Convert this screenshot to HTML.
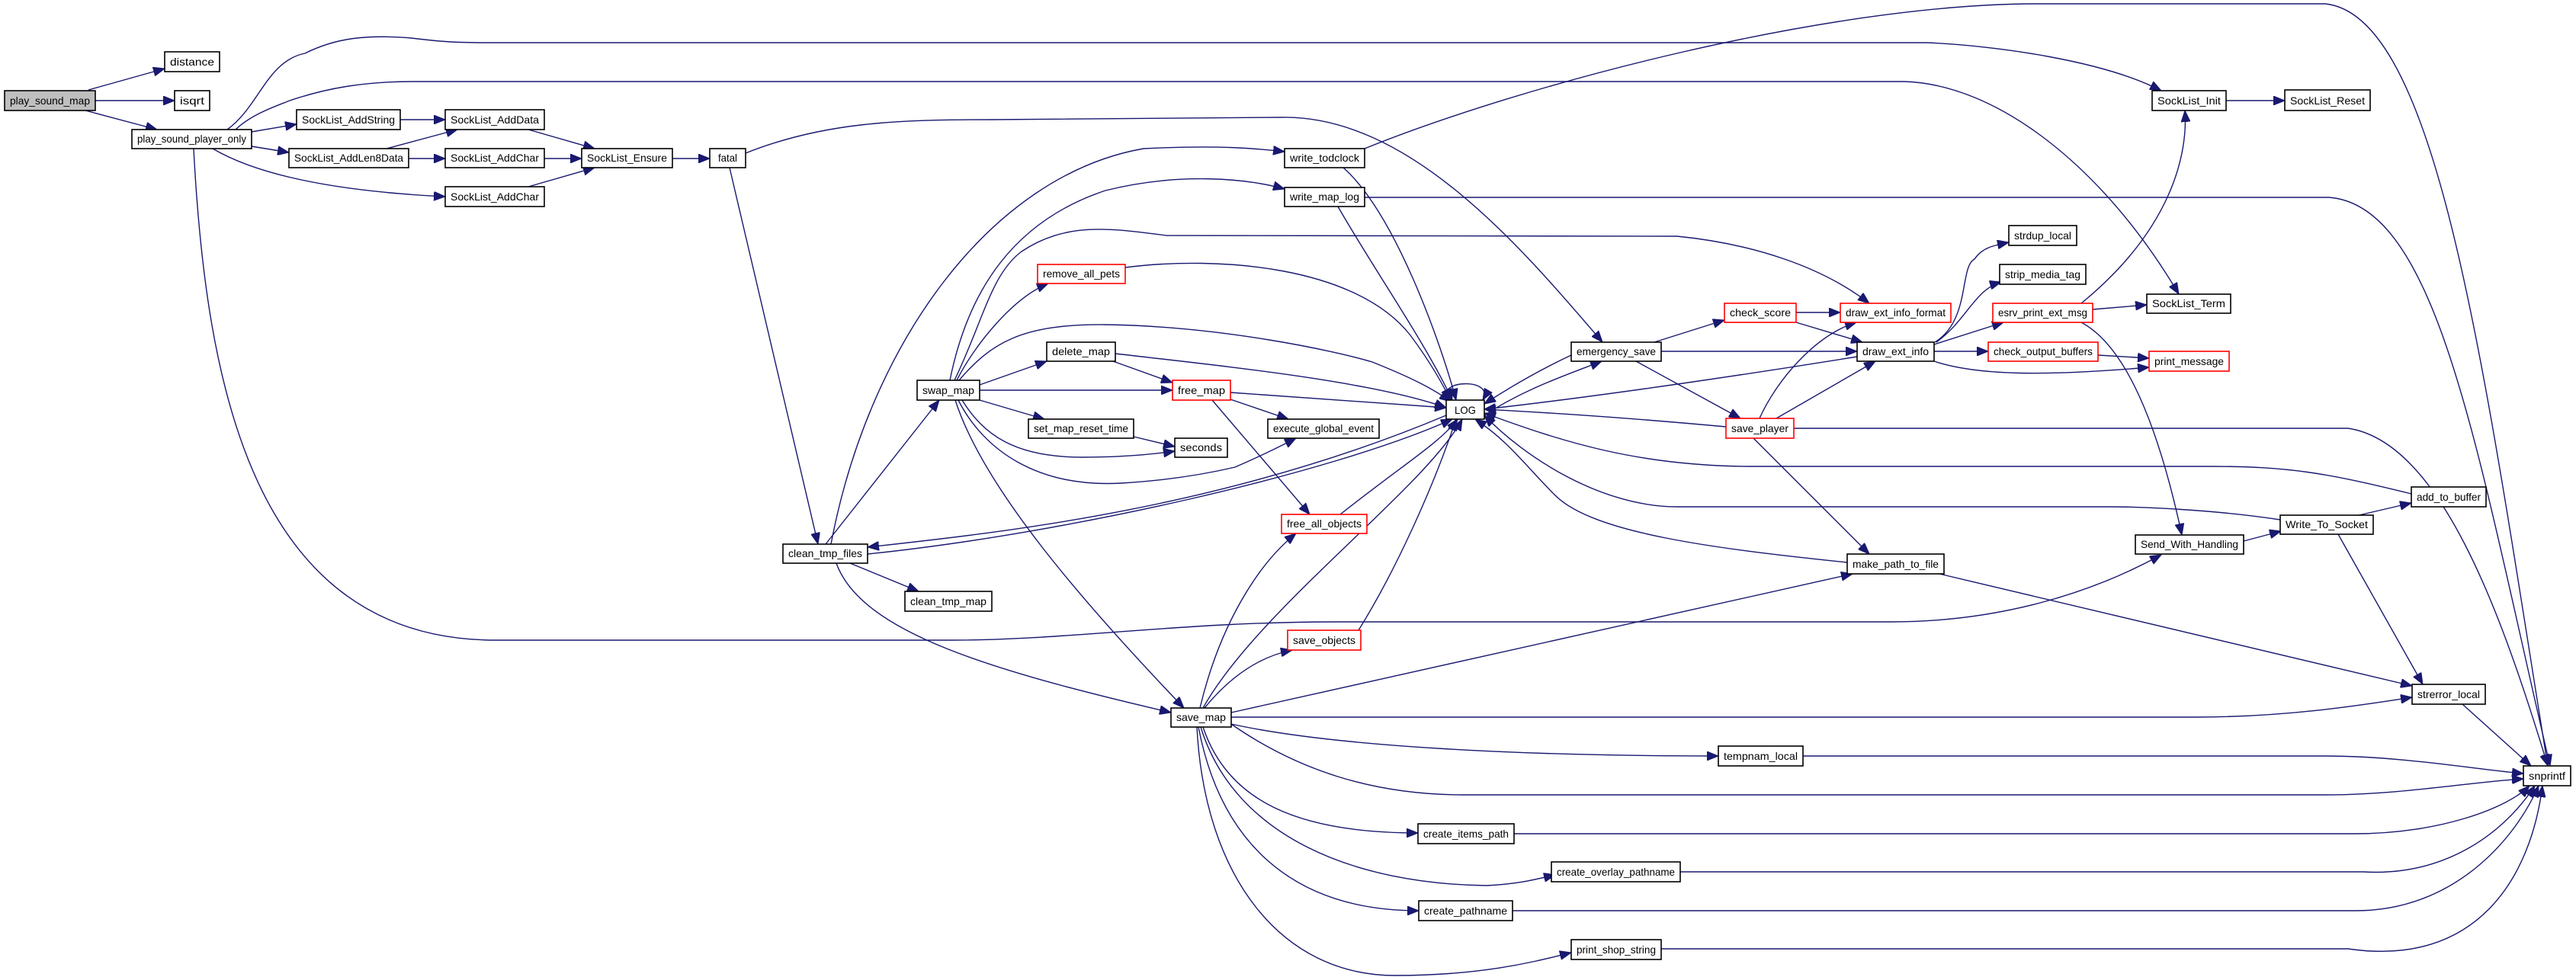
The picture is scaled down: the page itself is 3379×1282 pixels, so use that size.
<!DOCTYPE html>
<html><head><meta charset="utf-8"><style>
html,body{margin:0;padding:0;background:#fff;}
svg{display:block;}
text{font-family:"Liberation Sans",sans-serif;font-size:14px;fill:#000;}
.e{fill:none;stroke:#191970;stroke-width:1.4;marker-end:url(#a);}
.n{fill:#fff;stroke:#000;stroke-width:1.6;}
.r{fill:#fff;stroke:#ff0000;stroke-width:1.6;}
</style></head><body>
<svg width="3379" height="1282" viewBox="0 0 3379 1282" xmlns="http://www.w3.org/2000/svg">
<defs><marker id="a" markerUnits="userSpaceOnUse" markerWidth="16" markerHeight="12" refX="15" refY="6" orient="auto"><path d="M0,0 L15,6 L0,12 z" fill="#191970" stroke="#191970"/></marker></defs>
<g>
<path class="e" d="M116,118 L216,90"/>
<path class="e" d="M125,132 L229,132"/>
<path class="e" d="M112,145 L206,170"/>
<path class="e" d="M330,173 L389,163"/>
<path class="e" d="M330,192 L379,200"/>
<path class="e" d="M279,195 C330,225 420,250 584,258"/>
<path class="e" d="M298,170 C340,140 350,80 400,70 C440,50 480,45 540,50 C580,55 600,56 640,56 L2528,56 C2620,60 2760,80 2835,119"/>
<path class="e" d="M309,170 C330,150 360,140 380,132 C430,115 480,107 540,107 L2497,107 C2620,110 2760,220 2858,386"/>
<path class="e" d="M254,195 C270,500 330,840 650,840 L1250,840 C1400,840 1550,816 1750,816 L2480,816 C2620,816 2740,780 2835,728"/>
<path class="e" d="M525,157 L584,157"/>
<path class="e" d="M507,195 L600,170"/>
<path class="e" d="M536,208 L584,208"/>
<path class="e" d="M693,170 L780,195"/>
<path class="e" d="M714,208 L763,208"/>
<path class="e" d="M693,245 L780,220"/>
<path class="e" d="M882,208 L931,208"/>
<path class="e" d="M978,201 C1080,160 1180,157 1300,157 L1680,154 C1850,150 2000,330 2102,449"/>
<path class="e" d="M957,220 L1073,714"/>
<path class="e" d="M1083,714 L1232,525"/>
<path class="e" d="M1090,714 C1140,450 1300,230 1500,195 C1600,190 1650,195 1685,199"/>
<path class="e" d="M1246,499 C1270,380 1330,290 1450,250 C1550,225 1640,235 1685,248"/>
<path class="e" d="M1252,499 C1290,420 1300,360 1340,330 C1400,290 1460,300 1530,309 L2200,310 C2300,320 2390,350 2452,398"/>
<path class="e" d="M1255,499 C1280,450 1330,390 1375,372"/>
<path class="e" d="M1258,499 C1300,450 1340,425 1450,426 C1600,428 1750,460 1800,475 C1850,495 1880,510 1903,527"/>
<path class="e" d="M1285,505 L1373,474"/>
<path class="e" d="M1285,512 L1538,512"/>
<path class="e" d="M1285,525 L1370,550"/>
<path class="e" d="M1262,525 C1290,570 1330,600 1420,600 C1480,600 1520,595 1541,592"/>
<path class="e" d="M1257,525 C1290,590 1360,640 1470,634 C1540,630 1590,620 1620,613 C1650,600 1675,588 1700,575"/>
<path class="e" d="M1253,525 C1290,640 1420,790 1553,929"/>
<path class="e" d="M1460,474 L1538,502"/>
<path class="e" d="M1463,464 C1600,480 1800,500 1897,535"/>
<path class="e" d="M1614,515 L1897,535"/>
<path class="e" d="M1614,524 L1690,550"/>
<path class="e" d="M1590,525 L1718,675"/>
<path class="e" d="M1487,573 L1541,586"/>
<path class="e" d="M1476,351 C1600,335 1780,350 1850,440 C1880,480 1895,510 1903,525"/>
<path class="e" d="M1762,220 C1830,280 1890,450 1910,525"/>
<path class="e" d="M1790,195 C2000,110 2400,5 2671,5 L3050,5 C3200,20 3260,500 3342,1005"/>
<path class="e" d="M1755,271 C1800,350 1870,450 1905,525"/>
<path class="e" d="M1790,259 L3055,259 C3200,270 3250,600 3345,1005"/>
<path class="e" d="M1758,675 C1840,610 1890,580 1912,550"/>
<path class="e" d="M1897,545 C1600,670 1300,700 1138,718"/>
<path class="e" d="M1138,727 C1400,700 1750,620 1905,550"/>
<path class="e" d="M1115,739 L1205,776"/>
<path class="e" d="M1097,739 C1130,830 1300,880 1536,935"/>
<path class="e" d="M1900,525 C1880,498 1962,495 1945,525"/>
<path class="e" d="M2061,466 C2010,490 1970,515 1947,530"/>
<path class="e" d="M1947,545 C2000,510 2060,490 2101,474"/>
<path class="e" d="M2170,449 L2262,420"/>
<path class="e" d="M2179,461 L2436,461"/>
<path class="e" d="M2146,474 L2283,549"/>
<path class="e" d="M2356,410 L2414,410"/>
<path class="e" d="M2356,423 L2443,449"/>
<path class="e" d="M2436,468 C2300,490 2100,520 1947,537"/>
<path class="e" d="M2538,449 C2585,420 2570,350 2590,340 C2600,325 2615,322 2635,318"/>
<path class="e" d="M2540,449 C2580,420 2590,380 2625,370"/>
<path class="e" d="M2537,452 L2628,423"/>
<path class="e" d="M2537,461 L2608,461"/>
<path class="e" d="M2537,474 C2600,495 2700,492 2819,482"/>
<path class="e" d="M2752,466 L2819,470"/>
<path class="e" d="M2730,398 C2850,300 2870,200 2866,145"/>
<path class="e" d="M2745,406 L2816,400"/>
<path class="e" d="M2730,423 C2800,460 2840,600 2862,702"/>
<path class="e" d="M2308,549 C2330,500 2380,440 2435,423"/>
<path class="e" d="M2330,549 L2460,474"/>
<path class="e" d="M2264,560 C2100,545 2000,540 1947,537"/>
<path class="e" d="M2353,562 L3080,562 C3200,580 3280,800 3342,1005"/>
<path class="e" d="M2300,575 L2452,727"/>
<path class="e" d="M2920,132 L2997,132"/>
<path class="e" d="M2943,710 L2992,697"/>
<path class="e" d="M3090,677 L3163,660"/>
<path class="e" d="M2991,682 C2900,668 2800,665 2770,665 L2200,665 C2100,665 2000,600 1947,545"/>
<path class="e" d="M3163,648 C3050,620 3000,612 2900,612 L2300,612 C2150,612 2050,580 1947,542"/>
<path class="e" d="M3067,701 L3178,898"/>
<path class="e" d="M2423,738 C2250,720 2090,700 2040,650 C2000,610 1980,580 1935,550"/>
<path class="e" d="M2544,753 L3164,900"/>
<path class="e" d="M3230,924 L3320,1005"/>
<path class="e" d="M1615,935 L2430,753"/>
<path class="e" d="M1615,941 L2880,941 C3000,941 3100,925 3164,915"/>
<path class="e" d="M1612,948 C1700,1010 1800,1043 1920,1043 L3050,1043 C3150,1043 3250,1025 3310,1022"/>
<path class="e" d="M1615,950 C1750,980 2000,992 2254,992"/>
<path class="e" d="M1578,954 C1610,1050 1700,1093 1860,1093"/>
<path class="e" d="M1575,954 C1620,1100 1780,1160 1950,1162 C1990,1160 2010,1155 2040,1148"/>
<path class="e" d="M1572,954 C1600,1100 1690,1195 1861,1195"/>
<path class="e" d="M1570,954 C1580,1150 1680,1280 1830,1280 C1950,1280 2020,1260 2061,1250"/>
<path class="e" d="M1580,929 C1620,880 1660,860 1695,853"/>
<path class="e" d="M1574,929 C1600,820 1650,740 1700,700"/>
<path class="e" d="M1578,929 C1650,800 1870,640 1918,550"/>
<path class="e" d="M1782,827 C1830,750 1880,640 1910,550"/>
<path class="e" d="M2365,992 L3050,992 C3150,992 3250,1010 3310,1015"/>
<path class="e" d="M1986,1094 L3090,1094 C3200,1094 3290,1060 3318,1031"/>
<path class="e" d="M2204,1144 L3100,1144 C3200,1150 3280,1100 3325,1031"/>
<path class="e" d="M1984,1195 L3090,1195 C3220,1195 3300,1100 3330,1031"/>
<path class="e" d="M2179,1245 L3080,1245 C3250,1270 3320,1150 3335,1031"/>
</g>
<g>
<rect x="6" y="119" width="119" height="26" fill="#bfbfbf" stroke="#000" stroke-width="1.6"/><text x="65.5" y="137" text-anchor="middle" textLength="105" lengthAdjust="spacingAndGlyphs">play_sound_map</text>
<rect class="n" x="216" y="68" width="72" height="26"/><text x="252" y="86" text-anchor="middle" textLength="58" lengthAdjust="spacingAndGlyphs">distance</text>
<rect class="n" x="229" y="119" width="46" height="26"/><text x="252" y="137" text-anchor="middle" textLength="32" lengthAdjust="spacingAndGlyphs">isqrt</text>
<rect class="n" x="173" y="170" width="157" height="25"/><text x="251.5" y="187" text-anchor="middle" textLength="143" lengthAdjust="spacingAndGlyphs">play_sound_player_only</text>
<rect class="n" x="389" y="144" width="136" height="26"/><text x="457" y="162" text-anchor="middle" textLength="122" lengthAdjust="spacingAndGlyphs">SockList_AddString</text>
<rect class="n" x="584" y="144" width="130" height="26"/><text x="649" y="162" text-anchor="middle" textLength="116" lengthAdjust="spacingAndGlyphs">SockList_AddData</text>
<rect class="n" x="379" y="195" width="157" height="25"/><text x="457.5" y="212" text-anchor="middle" textLength="143" lengthAdjust="spacingAndGlyphs">SockList_AddLen8Data</text>
<rect class="n" x="584" y="195" width="130" height="25"/><text x="649" y="212" text-anchor="middle" textLength="116" lengthAdjust="spacingAndGlyphs">SockList_AddChar</text>
<rect class="n" x="584" y="245" width="130" height="26"/><text x="649" y="263" text-anchor="middle" textLength="116" lengthAdjust="spacingAndGlyphs">SockList_AddChar</text>
<rect class="n" x="763" y="195" width="119" height="25"/><text x="822.5" y="212" text-anchor="middle" textLength="105" lengthAdjust="spacingAndGlyphs">SockList_Ensure</text>
<rect class="n" x="931" y="195" width="47" height="25"/><text x="954.5" y="212" text-anchor="middle" textLength="25" lengthAdjust="spacingAndGlyphs">fatal</text>
<rect class="n" x="1685" y="195" width="105" height="25"/><text x="1737.5" y="212" text-anchor="middle" textLength="91" lengthAdjust="spacingAndGlyphs">write_todclock</text>
<rect class="n" x="1685" y="246" width="105" height="25"/><text x="1737.5" y="263" text-anchor="middle" textLength="91" lengthAdjust="spacingAndGlyphs">write_map_log</text>
<rect class="r" x="1361" y="347" width="115" height="25"/><text x="1418.5" y="364" text-anchor="middle" textLength="101" lengthAdjust="spacingAndGlyphs">remove_all_pets</text>
<rect class="n" x="1373" y="449" width="90" height="25"/><text x="1418" y="466" text-anchor="middle" textLength="76" lengthAdjust="spacingAndGlyphs">delete_map</text>
<rect class="n" x="1203" y="499" width="82" height="26"/><text x="1244" y="517" text-anchor="middle" textLength="68" lengthAdjust="spacingAndGlyphs">swap_map</text>
<rect class="r" x="1538" y="499" width="76" height="26"/><text x="1576" y="517" text-anchor="middle" textLength="62" lengthAdjust="spacingAndGlyphs">free_map</text>
<rect class="n" x="1897" y="525" width="50" height="25"/><text x="1922" y="543" text-anchor="middle" textLength="28" lengthAdjust="spacingAndGlyphs">LOG</text>
<rect class="n" x="1349" y="550" width="138" height="25"/><text x="1418" y="567" text-anchor="middle" textLength="124" lengthAdjust="spacingAndGlyphs">set_map_reset_time</text>
<rect class="n" x="1663" y="550" width="146" height="25"/><text x="1736" y="567" text-anchor="middle" textLength="132" lengthAdjust="spacingAndGlyphs">execute_global_event</text>
<rect class="n" x="1541" y="575" width="69" height="25"/><text x="1575.5" y="592" text-anchor="middle" textLength="55" lengthAdjust="spacingAndGlyphs">seconds</text>
<rect class="r" x="1681" y="675" width="112" height="25"/><text x="1737" y="692" text-anchor="middle" textLength="98" lengthAdjust="spacingAndGlyphs">free_all_objects</text>
<rect class="n" x="2061" y="449" width="118" height="25"/><text x="2120" y="466" text-anchor="middle" textLength="104" lengthAdjust="spacingAndGlyphs">emergency_save</text>
<rect class="r" x="2262" y="398" width="94" height="25"/><text x="2309" y="415" text-anchor="middle" textLength="80" lengthAdjust="spacingAndGlyphs">check_score</text>
<rect class="r" x="2414" y="398" width="145" height="25"/><text x="2486.5" y="415" text-anchor="middle" textLength="131" lengthAdjust="spacingAndGlyphs">draw_ext_info_format</text>
<rect class="r" x="2614" y="398" width="131" height="25"/><text x="2679.5" y="415" text-anchor="middle" textLength="117" lengthAdjust="spacingAndGlyphs">esrv_print_ext_msg</text>
<rect class="n" x="2816" y="386" width="110" height="25"/><text x="2871" y="403" text-anchor="middle" textLength="96" lengthAdjust="spacingAndGlyphs">SockList_Term</text>
<rect class="n" x="2635" y="296" width="89" height="26"/><text x="2679.5" y="314" text-anchor="middle" textLength="75" lengthAdjust="spacingAndGlyphs">strdup_local</text>
<rect class="n" x="2623" y="347" width="113" height="26"/><text x="2679.5" y="365" text-anchor="middle" textLength="99" lengthAdjust="spacingAndGlyphs">strip_media_tag</text>
<rect class="n" x="2436" y="449" width="101" height="25"/><text x="2486.5" y="466" text-anchor="middle" textLength="87" lengthAdjust="spacingAndGlyphs">draw_ext_info</text>
<rect class="r" x="2608" y="449" width="144" height="25"/><text x="2680" y="466" text-anchor="middle" textLength="130" lengthAdjust="spacingAndGlyphs">check_output_buffers</text>
<rect class="r" x="2819" y="461" width="105" height="26"/><text x="2871.5" y="479" text-anchor="middle" textLength="91" lengthAdjust="spacingAndGlyphs">print_message</text>
<rect class="r" x="2264" y="549" width="89" height="26"/><text x="2308.5" y="567" text-anchor="middle" textLength="75" lengthAdjust="spacingAndGlyphs">save_player</text>
<rect class="n" x="3163" y="639" width="98" height="26"/><text x="3212" y="657" text-anchor="middle" textLength="84" lengthAdjust="spacingAndGlyphs">add_to_buffer</text>
<rect class="n" x="2991" y="676" width="122" height="25"/><text x="3052" y="693" text-anchor="middle" textLength="108" lengthAdjust="spacingAndGlyphs">Write_To_Socket</text>
<rect class="n" x="2823" y="119" width="97" height="26"/><text x="2871.5" y="137" text-anchor="middle" textLength="83" lengthAdjust="spacingAndGlyphs">SockList_Init</text>
<rect class="n" x="2997" y="118" width="112" height="27"/><text x="3053" y="137" text-anchor="middle" textLength="98" lengthAdjust="spacingAndGlyphs">SockList_Reset</text>
<rect class="r" x="1689" y="827" width="96" height="26"/><text x="1737" y="845" text-anchor="middle" textLength="82" lengthAdjust="spacingAndGlyphs">save_objects</text>
<rect class="n" x="2423" y="727" width="127" height="26"/><text x="2486.5" y="745" text-anchor="middle" textLength="113" lengthAdjust="spacingAndGlyphs">make_path_to_file</text>
<rect class="n" x="2801" y="702" width="142" height="25"/><text x="2872" y="719" text-anchor="middle" textLength="128" lengthAdjust="spacingAndGlyphs">Send_With_Handling</text>
<rect class="n" x="3164" y="898" width="96" height="26"/><text x="3212" y="916" text-anchor="middle" textLength="82" lengthAdjust="spacingAndGlyphs">strerror_local</text>
<rect class="n" x="2254" y="979" width="111" height="26"/><text x="2309.5" y="997" text-anchor="middle" textLength="97" lengthAdjust="spacingAndGlyphs">tempnam_local</text>
<rect class="n" x="3310" y="1005" width="62" height="26"/><text x="3341" y="1023" text-anchor="middle" textLength="48" lengthAdjust="spacingAndGlyphs">snprintf</text>
<rect class="n" x="1860" y="1081" width="126" height="26"/><text x="1923" y="1099" text-anchor="middle" textLength="112" lengthAdjust="spacingAndGlyphs">create_items_path</text>
<rect class="n" x="2035" y="1131" width="169" height="26"/><text x="2119.5" y="1149" text-anchor="middle" textLength="155" lengthAdjust="spacingAndGlyphs">create_overlay_pathname</text>
<rect class="n" x="1861" y="1182" width="123" height="26"/><text x="1922.5" y="1200" text-anchor="middle" textLength="109" lengthAdjust="spacingAndGlyphs">create_pathname</text>
<rect class="n" x="2061" y="1233" width="118" height="26"/><text x="2120" y="1251" text-anchor="middle" textLength="104" lengthAdjust="spacingAndGlyphs">print_shop_string</text>
<rect class="n" x="1027" y="714" width="111" height="25"/><text x="1082.5" y="731" text-anchor="middle" textLength="97" lengthAdjust="spacingAndGlyphs">clean_tmp_files</text>
<rect class="n" x="1187" y="776" width="114" height="26"/><text x="1244" y="794" text-anchor="middle" textLength="100" lengthAdjust="spacingAndGlyphs">clean_tmp_map</text>
<rect class="n" x="1536" y="929" width="79" height="25"/><text x="1575.5" y="946" text-anchor="middle" textLength="65" lengthAdjust="spacingAndGlyphs">save_map</text>
</g>
</svg>
</body></html>
